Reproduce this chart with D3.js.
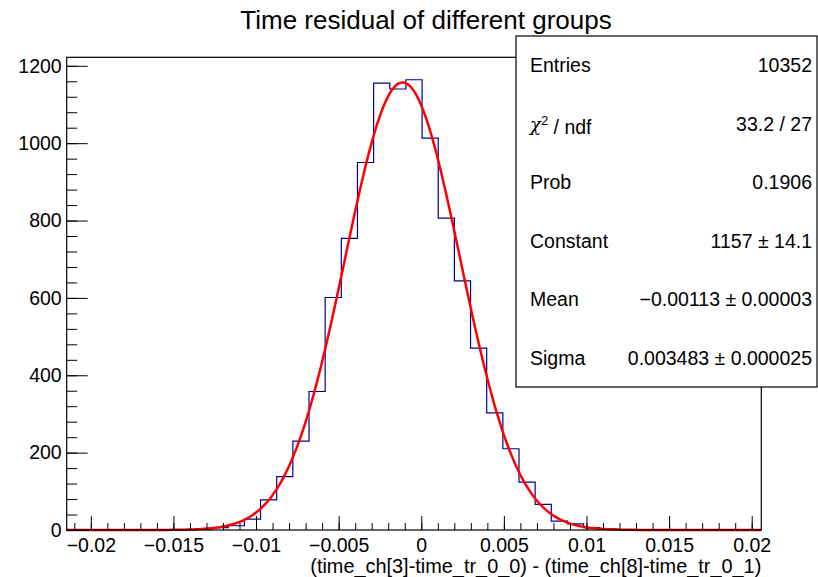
<!DOCTYPE html>
<html>
<head>
<meta charset="utf-8">
<script src="https://cdn.jsdelivr.net/npm/d3@7"></script>
<style>
body { margin: 0; background: #fff; }
text { font-family: "Liberation Sans", Arial, Helvetica, sans-serif; fill: #000; }
</style>
</head>
<body>
<div id="chart"></div>
<script>
// histogram range and bin contents (43 bins)
var xLow = -0.02146, xHigh = 0.02058;
var counts = [0, 0, 0, 0, 0, 0, 0, 1, 2, 6, 11, 28, 78, 138, 230, 358, 601, 754, 950, 1155, 1140,
	1164, 1013, 806, 644, 470, 303, 210, 124, 66, 23, 16, 6, 3, 1, 0, 0, 0, 0, 0, 0, 0, 0];
var yMax = 1222;

// gaussian fit parameters
var fitConstant = 1157, fitMean = -0.00113, fitSigma = 0.003483;

var xTicks = [-0.02, -0.015, -0.01, -0.005, 0, 0.005, 0.01, 0.015, 0.02];
var xTickLabels = ["\u22120.02", "\u22120.015", "\u22120.01", "\u22120.005", "0", "0.005", "0.01", "0.015", "0.02"];
var yTicks = [0, 200, 400, 600, 800, 1000, 1200];

var title = "Time residual of different groups";
var xTitle = "(time_ch[3]-time_tr_0_0) - (time_ch[8]-time_tr_0_1)";

var statsLabels = ["Entries", "", "Prob", "Constant", "Mean", "Sigma"];
var statsValues = ["10352", "33.2 / 27", "0.1906", "1157 \u00b1 14.1", "\u22120.00113 \u00b1 0.00003", "0.003483 \u00b1 0.000025"];

drawHist("chart");

function drawHist(container){
	var W = 818, H = 577;
	var frame = { left: 66.7, right: 761.3, top: 57.3, bottom: 530 };

	var svg = d3.select("#" + container).append("svg")
		.attr("width", W)
		.attr("height", H);

	var x = d3.scaleLinear().domain([xLow, xHigh]).range([frame.left, frame.right]);
	var y = d3.scaleLinear().domain([0, yMax]).range([frame.bottom, frame.top]);

	// histogram outline
	var binWidth = (xHigh - xLow) / counts.length;
	var steps = counts.map(function(c, i){ return { x: xLow + i * binWidth, y: c }; });
	steps.push({ x: xHigh, y: counts[counts.length - 1] });
	var histLine = d3.line()
		.x(function(d){ return x(d.x); })
		.y(function(d){ return y(d.y); })
		.curve(d3.curveStepAfter);
	svg.append("path")
		.datum(steps)
		.attr("d", histLine)
		.attr("fill", "none")
		.attr("stroke", "#000099")
		.attr("stroke-width", 1.2);

	// fit curve
	var fitPts = d3.range(0, 401).map(function(i){
		var xv = xLow + (xHigh - xLow) * i / 400;
		var z = (xv - fitMean) / fitSigma;
		return { x: xv, y: fitConstant * Math.exp(-0.5 * z * z) };
	});
	svg.append("path")
		.datum(fitPts)
		.attr("d", d3.line().x(function(d){ return x(d.x); }).y(function(d){ return y(d.y); }))
		.attr("fill", "none")
		.attr("stroke", "#ff0000")
		.attr("stroke-width", 2.5);

	// x axis
	var xMinor = d3.range(-21, 21).map(function(i){ return i * 0.001; });
	svg.append("g")
		.attr("transform", "translate(0," + frame.bottom + ")")
		.call(d3.axisBottom(x).tickValues(xMinor).tickSize(-7).tickFormat(""))
		.selectAll("text").remove();
	var gx = svg.append("g")
		.attr("transform", "translate(0," + frame.bottom + ")")
		.call(d3.axisBottom(x).tickValues(xTicks).tickSize(-14).tickPadding(8)
			.tickFormat(function(d, i){ return xTickLabels[i]; }));
	gx.selectAll("text").style("font-size", "19.5px");

	// y axis
	var yMinor = d3.range(0, 31).map(function(i){ return i * 40; });
	svg.append("g")
		.attr("transform", "translate(" + frame.left + ",0)")
		.call(d3.axisLeft(y).tickValues(yMinor).tickSize(-10.5).tickFormat(""))
		.selectAll("text").remove();
	var gy = svg.append("g")
		.attr("transform", "translate(" + frame.left + ",0)")
		.call(d3.axisLeft(y).tickValues(yTicks).tickSize(-21).tickPadding(5).tickFormat(d3.format("d")));
	gy.selectAll("text").style("font-size", "19.5px");

	svg.selectAll(".domain").remove();
	svg.selectAll(".tick line").attr("stroke", "#000");

	// frame
	svg.append("rect")
		.attr("x", frame.left).attr("y", frame.top)
		.attr("width", frame.right - frame.left)
		.attr("height", frame.bottom - frame.top)
		.attr("fill", "none")
		.attr("stroke", "#000")
		.attr("stroke-width", 1.2);

	// titles
	svg.append("text")
		.attr("x", 426).attr("y", 29)
		.style("text-anchor", "middle")
		.style("font-size", "26px")
		.text(title);
	svg.append("text")
		.attr("x", frame.right).attr("y", 573)
		.style("text-anchor", "end")
		.style("font-size", "19.9px")
		.text(xTitle);

	// stats box
	var box = { x: 516, y: 36, w: 301, h: 351 };
	var rowH = box.h / statsLabels.length;
	var sg = svg.append("g");
	sg.append("rect")
		.attr("x", box.x).attr("y", box.y)
		.attr("width", box.w).attr("height", box.h)
		.attr("fill", "#fff")
		.attr("stroke", "#000")
		.attr("stroke-width", 1.2);
	var lab = sg.selectAll(".statLabel")
		.data(statsLabels)
		.enter()
		.append("text")
		.attr("class", "statLabel")
		.attr("x", box.x + 14)
		.attr("y", function(d, i){ return box.y + rowH * (i + 0.5); })
		.attr("dy", "0.35em")
		.style("font-size", "19.5px")
		.text(function(d){ return d; });
	// chi2 / ndf label: greek chi with superscript 2
	var chi = lab.filter(function(d, i){ return i == 1; });
	chi.append("tspan").style("font-family", "'DejaVu Serif', serif").style("font-style", "italic")
		.style("font-size", "18px").text("\u03c7");
	chi.append("tspan").attr("dy", "-0.45em").style("font-size", "13px").text("2");
	chi.append("tspan").attr("dy", "0.45em").text(" / ndf");
	sg.selectAll(".statValue")
		.data(statsValues)
		.enter()
		.append("text")
		.attr("class", "statValue")
		.attr("x", box.x + box.w - 5)
		.attr("y", function(d, i){ return box.y + rowH * (i + 0.5); })
		.attr("dy", "0.35em")
		.style("text-anchor", "end")
		.style("font-size", "19.5px")
		.text(function(d){ return d; });
}
</script>
</body>
</html>
